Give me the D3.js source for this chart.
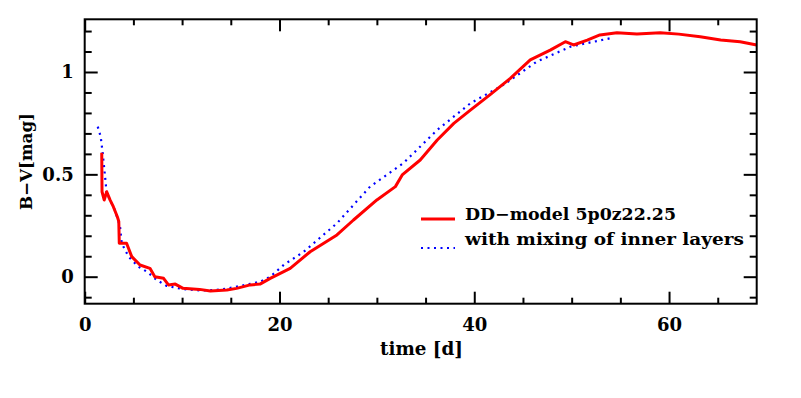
<!DOCTYPE html>
<html><head><meta charset="utf-8">
<script src="https://cdn.jsdelivr.net/npm/d3@7"></script>
<style>
html,body{margin:0;padding:0;background:#fff;}
svg text{font-family:"DejaVu Serif",serif;font-weight:bold;fill:#000;}
</style></head>
<body><svg id="chart" width="801" height="398"></svg>
<script>
// Data
const redT  = [1.75,1.78,2.0,2.26,2.6,2.94,3.35,3.5,3.55,4.3,4.83,5.68,6.7,7.2,8.1,8.6,9.3,10.1,11.8,12.9,14.6,15.6,17.0,18.0,19.05,21.1,23.15,25.9,27.6,30.0,31.9,32.6,34.45,36.2,37.9,39.6,41.6,43.7,45.75,47.8,49.35,50.2,51.6,52.9,54.65,56.7,59.1,61.0,63.2,65.3,67.3,69.0];
const redBV = [0.606,0.415,0.375,0.415,0.375,0.342,0.293,0.27,0.163,0.163,0.098,0.057,0.041,0.0,-0.008,-0.04,-0.036,-0.057,-0.062,-0.070,-0.065,-0.057,-0.04,-0.036,-0.008,0.041,0.122,0.204,0.277,0.375,0.44,0.497,0.57,0.668,0.749,0.814,0.888,0.969,1.059,1.107,1.148,1.132,1.156,1.181,1.192,1.186,1.192,1.185,1.172,1.156,1.148,1.132];
const blueT  = [1.34,1.64,1.85,2.09,2.26,3.1,3.63,3.8,4.5,5.5,6.4,7.4,8.4,10,12,14,16,18,19.05,20.5,22.5,25.9,29.3,32.7,36.2,39.6,43.0,46.4,49.9,54.0];
const blueBV = [0.733,0.684,0.603,0.489,0.407,0.326,0.244,0.163,0.098,0.049,0.024,-0.016,-0.045,-0.06,-0.068,-0.063,-0.045,-0.025,0.0,0.06,0.122,0.261,0.44,0.554,0.717,0.847,0.937,1.050,1.124,1.165];
const xMajor = [0,20,40,60];
const xMinor = [5,10,15,25,30,35,45,50,55,65];
const yMajor = [0,0.5,1];
const yMinor = [-0.1,0.1,0.2,0.3,0.4,0.6,0.7,0.8,0.9,1.1,1.2];
const seriesNames = ["DD\u2212model 5p0z22.25","with mixing of inner layers"];
const xLabel = "time [d]";
const yLabel = "B\u2212V[mag]";

const L=84.7, R=756.7, T=19.3, B=303.7;
const x = d3.scaleLinear().domain([0,69]).range([L,R]);
const y = d3.scaleLinear().domain([-0.1319,1.2574]).range([B,T]);
const svg = d3.select("#chart");

function tickAxis(axisFn, scale, vals, size, tr, labels){
  const a = axisFn(scale).tickValues(vals).tickSizeInner(-size).tickSizeOuter(0).tickPadding(9);
  a.tickFormat(labels ? d3.format("") : () => "");
  const g = svg.append("g").attr("transform", tr).call(a);
  g.select(".domain").remove();
  g.selectAll(".tick line").attr("stroke","#000").attr("stroke-width",2);
  g.selectAll(".tick text").attr("font-size",18).attr("font-family","DejaVu Serif").attr("font-weight","bold");
  return g;
}
// bottom
const gb = tickAxis(d3.axisBottom, x, xMajor, 12, `translate(0,${B})`, true);
gb.selectAll(".tick text").attr("dy","0.95em").attr("y",10);
tickAxis(d3.axisBottom, x, xMinor, 6, `translate(0,${B})`, false);
// top
tickAxis(d3.axisTop, x, xMajor, 12, `translate(0,${T})`, false);
tickAxis(d3.axisTop, x, xMinor, 6, `translate(0,${T})`, false);
// left
const gl = tickAxis(d3.axisLeft, y, yMajor, 13, `translate(${L},0)`, true);
gl.selectAll(".tick text").attr("x",-11);
tickAxis(d3.axisLeft, y, yMinor, 7, `translate(${L},0)`, false);
// right
tickAxis(d3.axisRight, y, yMajor, 13, `translate(${R},0)`, false);
tickAxis(d3.axisRight, y, yMinor, 7, `translate(${R},0)`, false);

// curves
const clip = svg.append("clipPath").attr("id","clip").append("rect")
  .attr("x",L).attr("y",T).attr("width",R-L).attr("height",B-T);
const line = d3.line().x(d=>x(d[0])).y(d=>y(d[1]));
const blueData = blueT.map((t,i)=>[t,blueBV[i]]);
const redData = redT.map((t,i)=>[t,redBV[i]]);
svg.append("path").datum(blueData).attr("d",line).attr("fill","none")
  .attr("stroke","#0000ff").attr("stroke-width",2.2).attr("stroke-dasharray","2,4.5")
  .attr("clip-path","url(#clip)");
svg.append("path").datum(redData).attr("d",line).attr("fill","none")
  .attr("stroke","#ff0000").attr("stroke-width",3).attr("stroke-linejoin","round")
  .attr("clip-path","url(#clip)");

// frame
svg.append("rect").attr("x",L).attr("y",T).attr("width",R-L).attr("height",B-T)
  .attr("fill","none").attr("stroke","#000").attr("stroke-width",2);

// legend
const leg = svg.append("g");
leg.append("line").attr("x1",421).attr("x2",455).attr("y1",219).attr("y2",219)
  .attr("stroke","#ff0000").attr("stroke-width",3);
leg.append("line").attr("x1",421).attr("x2",455).attr("y1",248).attr("y2",248)
  .attr("stroke","#0000ff").attr("stroke-width",2.2).attr("stroke-dasharray","2,4.5");
leg.append("text").attr("x",465).attr("y",220).attr("font-size",17)
  .attr("textLength",211).attr("lengthAdjust","spacingAndGlyphs").text(seriesNames[0]);
leg.append("text").attr("x",465).attr("y",245).attr("font-size",17)
  .attr("textLength",279).attr("lengthAdjust","spacingAndGlyphs").text(seriesNames[1]);

// axis labels
svg.append("text").attr("x",380).attr("y",355).attr("font-size",18)
  .attr("textLength",83).attr("lengthAdjust","spacingAndGlyphs").text(xLabel);
svg.append("text").attr("transform","translate(32,210) rotate(-90)").attr("font-size",17)
  .attr("textLength",97).attr("lengthAdjust","spacingAndGlyphs").text(yLabel);
</script></body></html>
